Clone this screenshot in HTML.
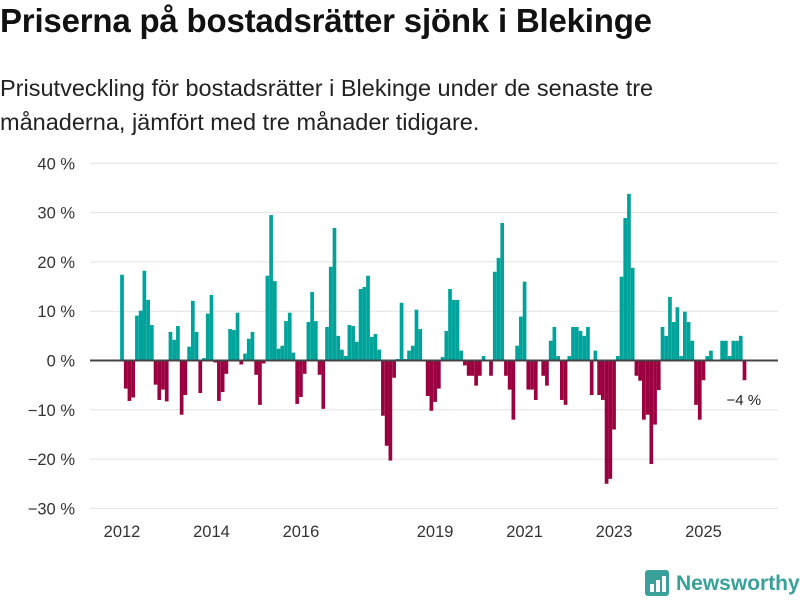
<!DOCTYPE html>
<html><head><meta charset="utf-8">
<style>
body{margin:0;background:#fff;font-family:"Liberation Sans",sans-serif;}
#wrap{position:relative;width:800px;height:600px;overflow:hidden;}
h1{position:absolute;left:0;top:2px;margin:0;font-size:33px;font-weight:bold;color:#111;letter-spacing:-0.2px;white-space:nowrap;}
p.sub{position:absolute;left:0;top:71px;margin:0;font-size:23.5px;line-height:34px;color:#222;width:700px;}
svg{position:absolute;left:0;top:0;}
</style></head>
<body>
<div id="wrap">
<h1>Priserna på bostadsrätter sjönk i Blekinge</h1>
<p class="sub">Prisutveckling för bostadsrätter i Blekinge under de senaste tre<br>månaderna, jämfört med tre månader tidigare.</p>
<svg id="chart" width="800" height="600"></svg>
</div>
<script>
const values = [17.4,-5.7,-8.2,-7.5,9.1,10.1,18.2,12.3,7.2,-4.9,-8,-5.9,-8.3,5.8,4.2,7,-11,-7,2.8,12.1,5.8,-6.6,0.5,9.5,13.3,-0.4,-8.2,
-6.4,-2.7,6.4,6.2,9.7,-0.8,1.4,4.4,5.8,-2.9,-9,-0.6,17.2,29.5,16.1,2.4,3,8,9.7,1.6,-8.8,-7.4,-2.7,7.8,13.9,8,-2.9,-9.8,6.8,
19,26.9,5,2.2,0.9,7.2,7,3.8,14.5,14.9,17.2,4.8,5.4,2.2,-11.2,-17.3,-20.3,-3.5,0.3,11.7,0.3,2,3,10.3,6.4,0,-7.2,-10.2,
-8.4,-5.7,0.7,6,14.5,12.3,12.3,2,-1,-3.1,-3.1,-5.1,-3.1,0.9,0,-3.1,18,20.8,27.9,-3.1,-5.9,-12,3,8.9,16,-5.9,-5.9,-8,
0,-3.1,-5.1,4,6.8,0.9,-8,-9,0.9,6.8,6.8,6,5,6.8,-7,2,-7,-8,-25,-24,-14,0.9,17,28.9,33.8,18.8,-3.1,-4.1,-12,
-11,-21,-13,-6,6.8,5,12.9,7.8,10.8,0.9,9.9,7.8,4,-9,-12,-4,0.9,2,0,0,4,4,0.9,4,4,5,-4];
const startYear = 2012;
const yTicks = [40,30,20,10,0,-10,-20,-30];
const xTickYears = [2012,2014,2016,2019,2021,2023,2025];
const lastLabel = "\u22124 %";

const svg = document.getElementById('chart');
const NS = 'http://www.w3.org/2000/svg';
const x0 = 122, x1 = 744.5;
const y = v => 360.5 - v * 4.93;
const x = i => x0 + i * (x1 - x0) / 167;
const bw = 3.7;
function mk(tag, attrs){const e=document.createElementNS(NS,tag);for(const k in attrs)e.setAttribute(k,attrs[k]);svg.appendChild(e);return e;}

yTicks.forEach(t=>{
  if(t!==0){const g=mk('line',{x1:90,x2:778,y1:y(t),y2:y(t),stroke:'#e2e2e2','stroke-width':1});
  
  }
  const l=mk('text',{x:75,y:y(t)+6,'text-anchor':'end','font-size':16.5,fill:'#333','font-family':'Liberation Sans, sans-serif'});
  l.textContent=(t<0?'\u2212'+(-t):t)+' %';
  
  
});
values.forEach((v,i)=>{
  const r=mk('rect',{x:x(i)-bw/2,width:bw,y:v>=0?y(v):y(0),height:Math.abs(y(v)-y(0)),fill:v>=0?'#00a39a':'#9b003f'});
  
  
});
const z=mk('line',{x1:90,x2:778,y1:y(0),y2:y(0),stroke:'#444','stroke-width':2});


xTickYears.forEach(yr=>{
  const i=(yr-startYear)*12;
  const l=mk('text',{x:x(i),y:537,'text-anchor':'middle','font-size':16.5,fill:'#333','font-family':'Liberation Sans, sans-serif'});
  l.textContent=yr;
  
  
});
const last=values.length-1;
const ll=mk('text',{x:x(last)-18,y:y(values[last])+25,'font-size':15,fill:'#222','font-family':'Liberation Sans, sans-serif'});
ll.textContent=lastLabel;



const lg=mk('rect',{x:645,y:570,width:24,height:26,rx:3,fill:'#3aa19a'});


[[650,584,4,8],[656,580,4,12],[662,576,4,16]].forEach(b=>{const r=mk('rect',{x:b[0],y:b[1],width:b[2],height:b[3],fill:'#fff'});

});
const lt=mk('text',{x:676,y:590,'font-size':21,'font-weight':'bold',fill:'#3aa19a','font-family':'Liberation Sans, sans-serif'});
lt.textContent='Newsworthy';


</script>
</body></html>
